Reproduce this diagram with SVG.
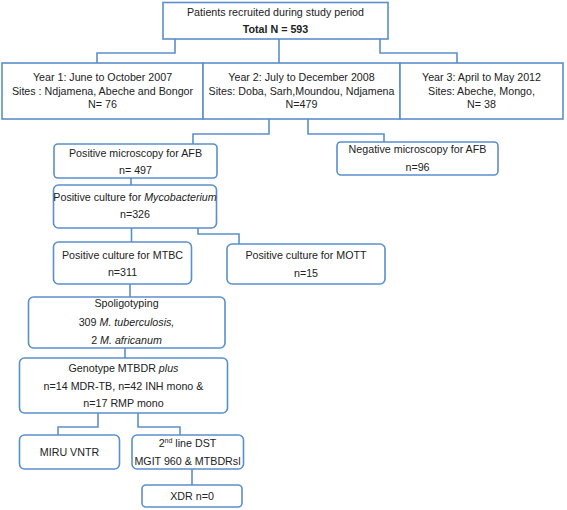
<svg xmlns="http://www.w3.org/2000/svg" width="567" height="510" viewBox="0 0 567 510">
<style>
.b{fill:#fff;stroke:#5B8FCB;stroke-width:1.6}
.c{fill:none;stroke:#5B8FCB;stroke-width:1.6}
text{font-family:"Liberation Sans",Arial,sans-serif;font-size:10.7px;fill:#222;text-anchor:middle}
.i{font-style:italic}
.bd{font-weight:bold}
</style>
<rect width="567" height="510" fill="#fff"/>
<g id="connectors">
<path class="c" d="M175,39V53H97V63"/>
<path class="c" d="M279,39V63"/>
<path class="c" d="M380,39V53H457V63"/>
<path class="c" d="M269,119V134H193V144"/>
<path class="c" d="M308,119V134H384V142"/>
<path class="c" d="M131,178V185"/>
<path class="c" d="M131.5,228V242"/>
<path class="c" d="M198,228V234H239V244"/>
<path class="c" d="M130,284V297"/>
<path class="c" d="M125,348V358"/>
<path class="c" d="M98,413V427H58V435"/>
<path class="c" d="M138,413V427H180V435"/>
<path class="c" d="M192,469V485"/>
</g>
<g id="total">
<rect class="b" x="163" y="2.5" width="225" height="36.5"/>
<text x="275.5" y="16">Patients recruited during study period</text>
<text x="275.5" y="32.5" class="bd">Total N = 593</text>
</g>
<g id="year1">
<rect class="b" x="2" y="63" width="201" height="56"/>
<text x="102.5" y="81">Year 1:  June to October 2007</text>
<text x="102.5" y="94.5">Sites : Ndjamena,  Abeche and Bongor</text>
<text x="102.5" y="108">N= 76</text>
</g>
<g id="year2">
<rect class="b" x="203" y="63" width="197" height="56"/>
<text x="301.5" y="81">Year 2: July to December 2008</text>
<text x="301.5" y="94.5">Sites: Doba, Sarh,Moundou,  Ndjamena</text>
<text x="301.5" y="108">N=479</text>
</g>
<g id="year3">
<rect class="b" x="400" y="63" width="163" height="56"/>
<text x="481.5" y="81">Year 3: April to May 2012</text>
<text x="481.5" y="94.5">Sites: Abeche,  Mongo,</text>
<text x="481.5" y="108">N= 38</text>
</g>
<g id="posmicro">
<rect class="b" x="54" y="144" width="163" height="34" rx="4"/>
<text x="135.5" y="156.5">Positive microscopy  for AFB</text>
<text x="135.5" y="174">n= 497</text>
</g>
<g id="negmicro">
<rect class="b" x="337" y="142" width="161" height="33" rx="4"/>
<text x="417.5" y="153">Negative microscopy for  AFB</text>
<text x="417.5" y="170.5">n=96</text>
</g>
<g id="myco">
<rect class="b" x="53.5" y="185" width="163" height="43" rx="5"/>
<text x="135" y="201" font-size="10.1">Positive culture for <tspan class="i">Mycobacterium</tspan></text>
<text x="135" y="217.5">n=326</text>
</g>
<g id="mtbc">
<rect class="b" x="53.5" y="242" width="138" height="42" rx="5"/>
<text x="122.5" y="259">Positive culture  for MTBC</text>
<text x="122.5" y="275.5">n=311</text>
</g>
<g id="mott">
<rect class="b" x="227" y="244" width="158" height="40" rx="5"/>
<text x="306" y="259">Positive culture  for MOTT</text>
<text x="306" y="276.5">n=15</text>
</g>
<g id="spoligo">
<rect class="b" x="28.5" y="297" width="196.5" height="51" rx="5"/>
<text x="126.5" y="307">Spoligotyping</text>
<text x="126.5" y="326">309 <tspan class="i">M. tuberculosis,</tspan></text>
<text x="126.5" y="343.5">2 <tspan class="i">M. africanum</tspan></text>
</g>
<g id="genotype">
<rect class="b" x="19.5" y="358" width="208" height="55" rx="5"/>
<text x="123.5" y="371.5">Genotype MTBDR <tspan class="i">plus</tspan></text>
<text x="123.5" y="390">n=14 MDR-TB,  n=42 INH mono  &amp;</text>
<text x="123.5" y="407">n=17 RMP mono</text>
</g>
<g id="miru">
<rect class="b" x="19.5" y="435" width="100" height="34" rx="5"/>
<text x="69.5" y="456">MIRU VNTR</text>
</g>
<g id="dst">
<rect class="b" x="132" y="435" width="111.5" height="34" rx="5"/>
<text x="187.5" y="446.5">2<tspan font-size="7" dy="-3.5">nd</tspan><tspan dy="3.5"> line DST</tspan></text>
<text x="187.5" y="464.5">MGIT 960 &amp; MTBDRsl</text>
</g>
<g id="xdr">
<rect class="b" x="142" y="485" width="100" height="22" rx="4"/>
<text x="192" y="499.5">XDR n=0</text>
</g>
</svg>
